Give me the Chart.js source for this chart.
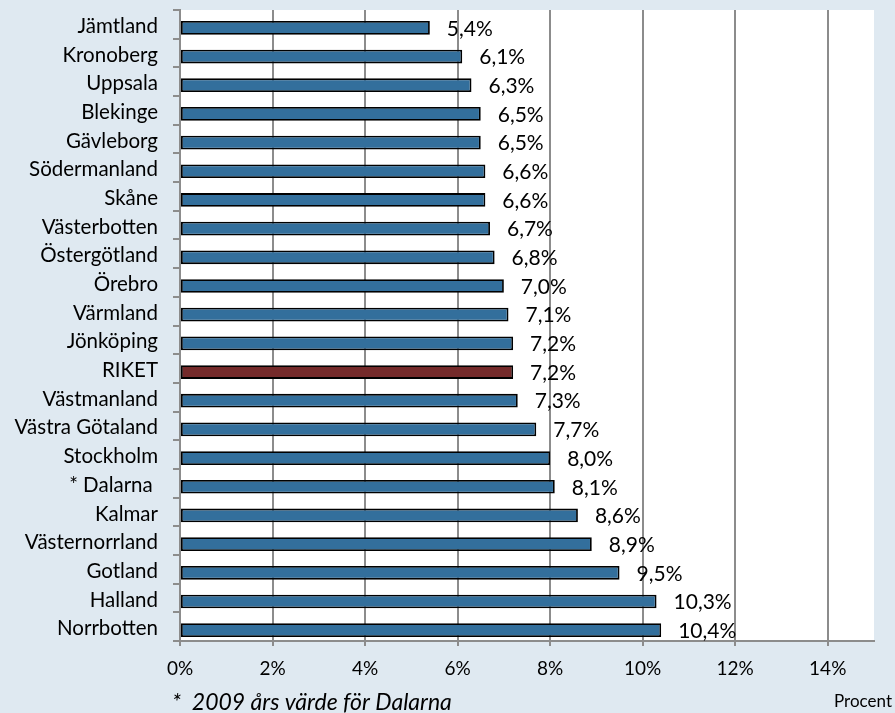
<!DOCTYPE html>
<html>
<head>
<meta charset="utf-8">
<script src="https://cdn.jsdelivr.net/npm/chart.js@4"></script>
<style>
  html, body { margin: 0; padding: 0; background: #dfe9f1; }
  #wrap { width: 895px; height: 713px; }
</style>
</head>
<body>
<div id="wrap"><canvas id="canvas" width="895" height="713"></canvas></div>
<script>
// regions, sorted as in the original chart (lowest share first)
var regions = ['Jämtland', 'Kronoberg', 'Uppsala', 'Blekinge', 'Gävleborg', 'Södermanland', 'Skåne',
  'Västerbotten', 'Östergötland', 'Örebro', 'Värmland', 'Jönköping', 'RIKET', 'Västmanland',
  'Västra Götaland', 'Stockholm', '* Dalarna ', 'Kalmar', 'Västernorrland', 'Gotland', 'Halland', 'Norrbotten'];
var shares = [5.4, 6.1, 6.3, 6.5, 6.5, 6.6, 6.6, 6.7, 6.8, 7.0, 7.1, 7.2, 7.2, 7.3, 7.7, 8.0, 8.1, 8.6, 8.9, 9.5, 10.3, 10.4];
var xTickValues = [0, 2, 4, 6, 8, 10, 12, 14];
var footnote = '*  2009 års värde för Dalarna';
var unitLabel = 'Procent';

var FONT = 'Lato, "Open Sans", sans-serif';
var BLUE = '#336f9c';
var RED = '#742a2a';
var GRID = '#8c8c8c';

var barColors = regions.map(function (r) { return r === 'RIKET' ? RED : BLUE; });

// white plot area + value labels + footnote
var decor = {
  id: 'decor',
  beforeDraw: function (chart) {
    var a = chart.chartArea, ctx = chart.ctx;
    ctx.save();
    ctx.fillStyle = '#ffffff';
    ctx.fillRect(a.left, a.top, a.right - a.left, a.bottom - a.top);
    ctx.restore();
  },
  afterDatasetsDraw: function (chart) {
    var ctx = chart.ctx;
    var meta = chart.getDatasetMeta(1);
    ctx.save();
    ctx.font = '21px ' + FONT;
    ctx.fillStyle = '#000';
    ctx.textBaseline = 'middle';
    ctx.textAlign = 'left';
    meta.data.forEach(function (bar, i) {
      var txt = shares[i].toFixed(1).replace('.', ',') + '%';
      ctx.fillText(txt, bar.x + 17, bar.y + 1);
    });
    ctx.restore();
  },
  afterDraw: function (chart) {
    var ctx = chart.ctx;
    ctx.save();
    ctx.fillStyle = '#000';
    ctx.textBaseline = 'alphabetic';
    ctx.font = 'italic 23px ' + FONT;
    ctx.textAlign = 'left';
    ctx.fillText(footnote, 172, 710);
    ctx.font = '17px ' + FONT;
    ctx.textAlign = 'right';
    ctx.fillText(unitLabel, 892, 707);
    ctx.restore();
  }
};

var config = {
  type: 'bar',
  data: {
    labels: regions,
    datasets: [{
      // empty series, keeps the bars in the lower half of each row as in the original
      label: '',
      data: regions.map(function () { return null; }),
      backgroundColor: 'transparent'
    }, {
      label: 'Andel',
      data: shares,
      backgroundColor: barColors,
      borderColor: '#000000',
      borderWidth: 1.8,
      borderSkipped: false
    }]
  },
  options: {
    indexAxis: 'y',
    responsive: false,
    animation: false,
    categoryPercentage: 0.49,
    barPercentage: 1.95,
    layout: { padding: { top: 10, right: 21, bottom: 0, left: 0 } },
    plugins: {
      legend: { display: false },
      tooltip: { enabled: false },
      title: { display: false }
    },
    scales: {
      x: {
        min: 0,
        max: 15,
        afterBuildTicks: function (s) {
          s.ticks = xTickValues.map(function (v) { return { value: v }; });
        },
        afterFit: function (s) { s.height = 72; },
        grid: { color: GRID, lineWidth: 2, tickLength: 5, tickColor: GRID },
        border: { color: GRID, width: 2 },
        ticks: {
          color: '#000',
          padding: 11,
          font: { family: FONT, size: 19 },
          maxRotation: 0,
          callback: function (v) { return v + '%'; }
        }
      },
      y: {
        afterFit: function (s) {
          s.width = 180;
          s.paddingTop = 0;
          s.paddingBottom = 0;
        },
        grid: { drawOnChartArea: false, offset: true, tickLength: 7, tickColor: GRID, lineWidth: 2 },
        border: { color: GRID, width: 2 },
        ticks: {
          color: '#000',
          padding: 15,
          labelOffset: 2,
          autoSkip: false,
          font: { family: FONT, size: 20.5 }
        }
      }
    }
  },
  plugins: [decor]
};

window.onload = function () {
  var ctx = document.getElementById('canvas').getContext('2d');
  window.myBar = new Chart(ctx, config);
};
</script>
</body>
</html>
